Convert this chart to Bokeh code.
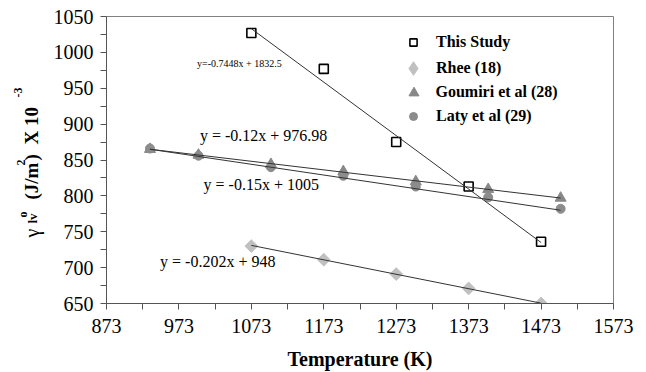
import math
from bokeh.plotting import figure
from bokeh.layouts import row
from bokeh.models import FixedTicker, Label, Legend, LegendItem
from bokeh.embed import file_html
from bokeh.resources import INLINE

# ---- data ----
x_ticks = [873, 973, 1073, 1173, 1273, 1373, 1473, 1573]
x_minor = [923, 1023, 1123, 1223, 1323, 1423, 1523]
y_ticks = [650, 700, 750, 800, 850, 900, 950, 1000, 1050]
y_minor = [675, 725, 775, 825, 875, 925, 975, 1025]

this_T = [1073, 1173, 1273, 1373, 1473]
this_g = [1027, 977, 875, 813, 736]
rhee_T = [1073, 1173, 1273, 1373, 1473]
rhee_g = [730, 711, 691, 671, 650]
goum_T = [933, 1000, 1100, 1200, 1300, 1400, 1500]
goum_g = [865, 857, 844, 834, 820, 809, 797]
laty_T = [933, 1000, 1100, 1200, 1300, 1400, 1500]
laty_g = [866, 856, 840, 828, 813, 798, 782]

# trend line end points
tr_this_T = [1073, 1473]
tr_this_g = [1033, 735]
tr_rhee_T = [1073, 1473]
tr_rhee_g = [731, 650.5]
tr_goum_T = [933, 1500]
tr_goum_g = [865, 797]
tr_laty_T = [933, 1500]
tr_laty_g = [865, 780]

eq_texts = ["y=-0.7448x + 1832.5", "y = -0.12x + 976.98", "y = -0.15x + 1005", "y = -0.202x + 948"]
eq_x = [998, 1002, 1007, 947]
eq_y = [985, 884, 816, 708]
eq_size = ["10px", "16px", "16px", "16px"]

legend_names = ["This Study", "Rhee (18)", "Goumiri et al (28)", "Laty et al (29)"]

FONT = "Liberation Serif"

p = figure(width=596, height=372, x_range=(873, 1573), y_range=(650, 1050),
           output_backend="svg", toolbar_location=None,
           min_border_left=54, min_border_right=33, min_border_top=16, min_border_bottom=65)
p.grid.visible = False
p.background_fill_color = "white"
p.outline_line_color = "#808080"
p.outline_line_width = 1

for ax in (p.xaxis, p.yaxis):
    ax.axis_line_color = "#555555"
    ax.major_tick_line_color = "#555555"
    ax.minor_tick_line_color = "#555555"
    ax.major_tick_in = 0
    ax.minor_tick_in = 0
    ax.major_tick_out = 6
    ax.minor_tick_out = 6
    ax.major_label_text_font = FONT
    ax.major_label_text_font_size = "20px"
    ax.major_label_text_color = "black"

p.xaxis.ticker = FixedTicker(ticks=x_ticks, minor_ticks=x_minor)
p.yaxis.ticker = FixedTicker(ticks=y_ticks, minor_ticks=y_minor)
p.xaxis.major_label_standoff = 9
p.yaxis.major_label_standoff = 7
p.xaxis.axis_label = "Temperature (K)"
p.xaxis.axis_label_text_font = FONT
p.xaxis.axis_label_text_font_style = "bold"
p.xaxis.axis_label_text_font_size = "20px"
p.xaxis.axis_label_text_color = "black"
p.xaxis.axis_label_standoff = 12

# markers
r_this = p.scatter(this_T, this_g, marker="square", size=9, fill_color="white",
                   line_color="black", line_width=1.6)
r_rhee = p.scatter(rhee_T, rhee_g, marker="square", angle=math.pi / 4, size=9,
                   fill_color="#c0c0c0", line_color="#c0c0c0")
r_goum = p.scatter(goum_T, goum_g, marker="triangle", size=11,
                   fill_color="#878787", line_color="#878787")
r_laty = p.scatter(laty_T, laty_g, marker="circle", size=9,
                   fill_color="#8c8c8c", line_color="#8c8c8c")
# hidden twin of the Rhee series, used only for the diamond legend glyph
r_rhee_leg = p.scatter(rhee_T, rhee_g, marker="diamond", size=13,
                       fill_color="#c0c0c0", line_color="#c0c0c0", visible=False)

# trend lines
for tx, ty in ((tr_this_T, tr_this_g), (tr_rhee_T, tr_rhee_g),
               (tr_goum_T, tr_goum_g), (tr_laty_T, tr_laty_g)):
    p.line(tx, ty, line_color="#333333", line_width=1)

for t, x, y, s in zip(eq_texts, eq_x, eq_y, eq_size):
    p.add_layout(Label(x=x, y=y, text=t, text_font=FONT, text_font_size=s,
                       text_align="left", text_baseline="middle", text_color="black"))

# one small legend per entry, so each glyph can have its own size
leg_renderers = [r_this, r_rhee_leg, r_goum, r_laty]
leg_box = [18, 34, 25, 20]          # glyph box (marker size = 0.4 * box)
leg_center_y = [261, 235, 211, 187]  # item centre, px above the frame bottom
for name, r, w, cy in zip(legend_names, leg_renderers, leg_box, leg_center_y):
    lg = Legend(items=[LegendItem(label=name, renderers=[r])],
                location=(307 - w / 2, cy - w / 2), orientation="vertical")
    lg.label_text_font = FONT
    lg.label_text_font_style = "bold"
    lg.label_text_font_size = "16px"
    lg.label_text_color = "black"
    lg.glyph_width = w
    lg.glyph_height = w
    lg.label_height = w
    lg.label_standoff = int(round(23 - w / 2))
    lg.padding = 0
    lg.margin = 0
    lg.border_line_color = None
    lg.background_fill_alpha = 0
    lg.click_policy = "none"
    p.add_layout(lg)

# ---- y axis title, built from pieces in a narrow strip on the left ----
q = figure(width=50, height=372, x_range=(0, 50), y_range=(0, 372),
           output_backend="svg", toolbar_location=None,
           x_axis_location=None, y_axis_location=None,
           min_border_left=0, min_border_right=0, min_border_top=0, min_border_bottom=0)
q.grid.visible = False
q.outline_line_color = None

ylab_parts = [("\u03b3", "20px", 31, 66, "normal"), ("lv", "13px", 32, 80, "bold"),
              ("o", "12px", 22, 86, "bold"), ("(J/m", "19px", 31, 104, "bold"),
              ("2", "12px", 20, 138, "bold"), (")", "19px", 31, 143, "bold"),
              ("X 10", "19px", 31, 159, "bold"), ("-3", "12px", 17, 206, "bold")]
for t, s, sx, sy, st in ylab_parts:
    q.add_layout(Label(x=sx, y=sy, x_units="screen", y_units="screen", text=t,
                       angle=math.pi / 2, text_font=FONT, text_font_size=s,
                       text_font_style=st, text_align="left",
                       text_baseline="alphabetic", text_color="black"))

layout = row(q, p, spacing=0)
open("out.html", "w").write(file_html(layout, INLINE))
